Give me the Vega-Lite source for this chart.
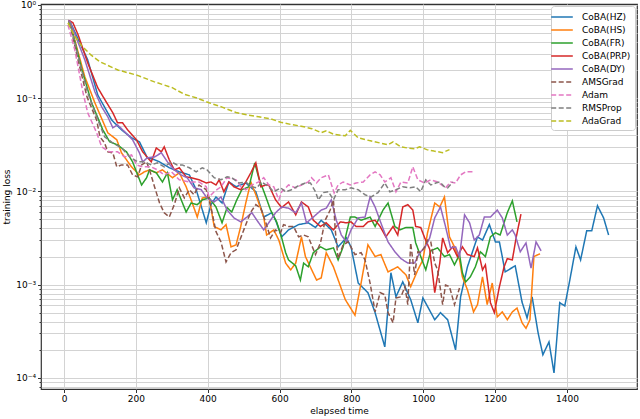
{
"$schema": "https://vega.github.io/schema/vega-lite/v6.json",
"width": 596, "height": 385,
"autosize": {"type": "none"},
"padding": {"left": 41, "top": 4, "right": 3, "bottom": 30},
"background": "white",
"config": {
 "font": "DejaVu Sans",
 "view": {"stroke": "#333", "strokeWidth": 1.2},
 "axis": {"labelFont": "DejaVu Sans", "titleFont": "DejaVu Sans", "labelFontSize": 9, "titleFontSize": 9, "titleFontWeight": "normal", "labelColor": "#000", "titleColor": "#000", "tickColor": "#333", "domain": false, "gridColor": "#d3d3d3", "gridWidth": 1},
 "legend": {"orient": "top-right", "offset": 2, "fillColor": "white", "strokeColor": "#cccccc", "cornerRadius": 3, "padding": 4, "symbolType": "M-1.8,0H1.8", "symbolSize": 144, "symbolStrokeWidth": 1.5, "symbolFillColor": "transparent", "labelFontSize": 9, "labelFont": "DejaVu Sans", "labelColor": "#000", "rowPadding": 1, "labelOffset": 13}
},
"data": {"values": [
{"s":"CoBA(HZ)","t":12,"v":0.66},{"s":"CoBA(HZ)","t":17,"v":0.657},{"s":"CoBA(HZ)","t":66,"v":0.257},{"s":"CoBA(HZ)","t":94,"v":0.108},{"s":"CoBA(HZ)","t":133,"v":0.058},{"s":"CoBA(HZ)","t":160,"v":0.0457},{"s":"CoBA(HZ)","t":188,"v":0.0375},{"s":"CoBA(HZ)","t":210,"v":0.034},{"s":"CoBA(HZ)","t":232,"v":0.0229},{"s":"CoBA(HZ)","t":252,"v":0.0218},{"s":"CoBA(HZ)","t":266,"v":0.0207},{"s":"CoBA(HZ)","t":293,"v":0.0179},{"s":"CoBA(HZ)","t":321,"v":0.0162},{"s":"CoBA(HZ)","t":349,"v":0.015},{"s":"CoBA(HZ)","t":368,"v":0.0104},{"s":"CoBA(HZ)","t":396,"v":0.0046},{"s":"CoBA(HZ)","t":409,"v":0.0072},{"s":"CoBA(HZ)","t":423,"v":0.0087},{"s":"CoBA(HZ)","t":440,"v":0.0075},{"s":"CoBA(HZ)","t":459,"v":0.0126},{"s":"CoBA(HZ)","t":479,"v":0.0112},{"s":"CoBA(HZ)","t":506,"v":0.0123},{"s":"CoBA(HZ)","t":534,"v":0.0099},{"s":"CoBA(HZ)","t":556,"v":0.0053},{"s":"CoBA(HZ)","t":578,"v":0.0059},{"s":"CoBA(HZ)","t":589,"v":0.0049},{"s":"CoBA(HZ)","t":606,"v":0.00325},{"s":"CoBA(HZ)","t":625,"v":0.00386},{"s":"CoBA(HZ)","t":653,"v":0.0044},{"s":"CoBA(HZ)","t":680,"v":0.0046},{"s":"CoBA(HZ)","t":700,"v":0.0041},{"s":"CoBA(HZ)","t":716,"v":0.0049},{"s":"CoBA(HZ)","t":744,"v":0.00386},{"s":"CoBA(HZ)","t":763,"v":0.00254},{"s":"CoBA(HZ)","t":786,"v":0.00317},{"s":"CoBA(HZ)","t":799,"v":0.00254},{"s":"CoBA(HZ)","t":819,"v":0.00104},{"s":"CoBA(HZ)","t":846,"v":0.00082},{"s":"CoBA(HZ)","t":866,"v":0.0005},{"s":"CoBA(HZ)","t":893,"v":0.000215},{"s":"CoBA(HZ)","t":910,"v":0.00134},{"s":"CoBA(HZ)","t":924,"v":0.00074},{"s":"CoBA(HZ)","t":943,"v":0.00107},{"s":"CoBA(HZ)","t":965,"v":0.00069},{"s":"CoBA(HZ)","t":985,"v":0.00039},{"s":"CoBA(HZ)","t":999,"v":0.00072},{"s":"CoBA(HZ)","t":1032,"v":0.00042},{"s":"CoBA(HZ)","t":1048,"v":0.0005},{"s":"CoBA(HZ)","t":1068,"v":0.00042},{"s":"CoBA(HZ)","t":1090,"v":0.0002},{"s":"CoBA(HZ)","t":1104,"v":0.00074},{"s":"CoBA(HZ)","t":1123,"v":0.00155},{"s":"CoBA(HZ)","t":1151,"v":0.00325},{"s":"CoBA(HZ)","t":1165,"v":0.003},{"s":"CoBA(HZ)","t":1184,"v":0.0044},{"s":"CoBA(HZ)","t":1201,"v":0.00287},{"s":"CoBA(HZ)","t":1212,"v":0.00287},{"s":"CoBA(HZ)","t":1228,"v":0.00137},{"s":"CoBA(HZ)","t":1256,"v":0.00159},{"s":"CoBA(HZ)","t":1275,"v":0.00065},{"s":"CoBA(HZ)","t":1289,"v":0.00044},{"s":"CoBA(HZ)","t":1303,"v":0.00074},{"s":"CoBA(HZ)","t":1320,"v":0.0003},{"s":"CoBA(HZ)","t":1333,"v":0.000177},{"s":"CoBA(HZ)","t":1350,"v":0.000243},{"s":"CoBA(HZ)","t":1364,"v":0.000113},{"s":"CoBA(HZ)","t":1380,"v":0.00064},{"s":"CoBA(HZ)","t":1394,"v":0.00059},{"s":"CoBA(HZ)","t":1408,"v":0.00112},{"s":"CoBA(HZ)","t":1425,"v":0.00254},{"s":"CoBA(HZ)","t":1438,"v":0.00184},{"s":"CoBA(HZ)","t":1455,"v":0.00377},{"s":"CoBA(HZ)","t":1469,"v":0.00377},{"s":"CoBA(HZ)","t":1485,"v":0.007},{"s":"CoBA(HZ)","t":1502,"v":0.0052},{"s":"CoBA(HZ)","t":1516,"v":0.0034},
{"s":"CoBA(HS)","t":12,"v":0.66},{"s":"CoBA(HS)","t":17,"v":0.64},{"s":"CoBA(HS)","t":58,"v":0.169},{"s":"CoBA(HS)","t":86,"v":0.089},{"s":"CoBA(HS)","t":122,"v":0.0424},{"s":"CoBA(HS)","t":147,"v":0.0357},{"s":"CoBA(HS)","t":160,"v":0.0259},{"s":"CoBA(HS)","t":188,"v":0.0183},{"s":"CoBA(HS)","t":210,"v":0.015},{"s":"CoBA(HS)","t":224,"v":0.0162},{"s":"CoBA(HS)","t":238,"v":0.017},{"s":"CoBA(HS)","t":257,"v":0.0158},{"s":"CoBA(HS)","t":274,"v":0.017},{"s":"CoBA(HS)","t":302,"v":0.014},{"s":"CoBA(HS)","t":321,"v":0.0158},{"s":"CoBA(HS)","t":340,"v":0.0112},{"s":"CoBA(HS)","t":357,"v":0.0075},{"s":"CoBA(HS)","t":371,"v":0.0053},{"s":"CoBA(HS)","t":385,"v":0.0085},{"s":"CoBA(HS)","t":404,"v":0.0087},{"s":"CoBA(HS)","t":418,"v":0.0042},{"s":"CoBA(HS)","t":437,"v":0.00386},{"s":"CoBA(HS)","t":451,"v":0.0044},{"s":"CoBA(HS)","t":465,"v":0.00254},{"s":"CoBA(HS)","t":479,"v":0.00267},{"s":"CoBA(HS)","t":492,"v":0.0042},{"s":"CoBA(HS)","t":506,"v":0.0075},{"s":"CoBA(HS)","t":520,"v":0.0126},{"s":"CoBA(HS)","t":534,"v":0.0092},{"s":"CoBA(HS)","t":556,"v":0.0053},{"s":"CoBA(HS)","t":564,"v":0.0034},{"s":"CoBA(HS)","t":584,"v":0.00386},{"s":"CoBA(HS)","t":598,"v":0.003},{"s":"CoBA(HS)","t":617,"v":0.0017},{"s":"CoBA(HS)","t":631,"v":0.00144},{"s":"CoBA(HS)","t":645,"v":0.0017},{"s":"CoBA(HS)","t":661,"v":0.00325},{"s":"CoBA(HS)","t":672,"v":0.002},{"s":"CoBA(HS)","t":703,"v":0.00112},{"s":"CoBA(HS)","t":716,"v":0.00118},{"s":"CoBA(HS)","t":730,"v":0.0022},{"s":"CoBA(HS)","t":750,"v":0.00155},{"s":"CoBA(HS)","t":783,"v":0.00069},{"s":"CoBA(HS)","t":810,"v":0.00047},{"s":"CoBA(HS)","t":827,"v":0.00104},{"s":"CoBA(HS)","t":846,"v":0.00267},{"s":"CoBA(HS)","t":866,"v":0.002},{"s":"CoBA(HS)","t":882,"v":0.0021},{"s":"CoBA(HS)","t":902,"v":0.00137},{"s":"CoBA(HS)","t":929,"v":0.00155},{"s":"CoBA(HS)","t":952,"v":0.00127},{"s":"CoBA(HS)","t":965,"v":0.00095},{"s":"CoBA(HS)","t":985,"v":0.00144},{"s":"CoBA(HS)","t":999,"v":0.00184},{"s":"CoBA(HS)","t":1012,"v":0.0036},{"s":"CoBA(HS)","t":1032,"v":0.0075},{"s":"CoBA(HS)","t":1046,"v":0.0068},{"s":"CoBA(HS)","t":1059,"v":0.0087},{"s":"CoBA(HS)","t":1073,"v":0.00325},{"s":"CoBA(HS)","t":1087,"v":0.00254},{"s":"CoBA(HS)","t":1101,"v":0.00184},{"s":"CoBA(HS)","t":1109,"v":0.00121},{"s":"CoBA(HS)","t":1123,"v":0.00088},{"s":"CoBA(HS)","t":1140,"v":0.00051},{"s":"CoBA(HS)","t":1151,"v":0.00061},{"s":"CoBA(HS)","t":1165,"v":0.00121},{"s":"CoBA(HS)","t":1178,"v":0.00061},{"s":"CoBA(HS)","t":1192,"v":0.00104},{"s":"CoBA(HS)","t":1206,"v":0.00045},{"s":"CoBA(HS)","t":1220,"v":0.00051},{"s":"CoBA(HS)","t":1234,"v":0.00042},{"s":"CoBA(HS)","t":1248,"v":0.00051},{"s":"CoBA(HS)","t":1261,"v":0.00056},{"s":"CoBA(HS)","t":1275,"v":0.00039},{"s":"CoBA(HS)","t":1286,"v":0.00034},{"s":"CoBA(HS)","t":1297,"v":0.00042},{"s":"CoBA(HS)","t":1308,"v":0.002},{"s":"CoBA(HS)","t":1325,"v":0.00214},
{"s":"CoBA(FR)","t":12,"v":0.66},{"s":"CoBA(FR)","t":17,"v":0.64},{"s":"CoBA(FR)","t":50,"v":0.2},{"s":"CoBA(FR)","t":77,"v":0.089},{"s":"CoBA(FR)","t":108,"v":0.0457},{"s":"CoBA(FR)","t":127,"v":0.034},{"s":"CoBA(FR)","t":149,"v":0.0315},{"s":"CoBA(FR)","t":174,"v":0.0265},{"s":"CoBA(FR)","t":191,"v":0.0207},{"s":"CoBA(FR)","t":205,"v":0.015},{"s":"CoBA(FR)","t":216,"v":0.0117},{"s":"CoBA(FR)","t":230,"v":0.014},{"s":"CoBA(FR)","t":238,"v":0.017},{"s":"CoBA(FR)","t":257,"v":0.0158},{"s":"CoBA(FR)","t":274,"v":0.0126},{"s":"CoBA(FR)","t":288,"v":0.0158},{"s":"CoBA(FR)","t":302,"v":0.0081},{"s":"CoBA(FR)","t":315,"v":0.0104},{"s":"CoBA(FR)","t":340,"v":0.006},{"s":"CoBA(FR)","t":354,"v":0.0075},{"s":"CoBA(FR)","t":371,"v":0.0072},{"s":"CoBA(FR)","t":385,"v":0.0081},{"s":"CoBA(FR)","t":404,"v":0.0085},{"s":"CoBA(FR)","t":423,"v":0.0068},{"s":"CoBA(FR)","t":440,"v":0.0046},{"s":"CoBA(FR)","t":454,"v":0.0067},{"s":"CoBA(FR)","t":467,"v":0.006},{"s":"CoBA(FR)","t":481,"v":0.0081},{"s":"CoBA(FR)","t":495,"v":0.0104},{"s":"CoBA(FR)","t":515,"v":0.0112},{"s":"CoBA(FR)","t":531,"v":0.0202},{"s":"CoBA(FR)","t":542,"v":0.014},{"s":"CoBA(FR)","t":562,"v":0.0087},{"s":"CoBA(FR)","t":575,"v":0.0063},{"s":"CoBA(FR)","t":592,"v":0.0047},{"s":"CoBA(FR)","t":606,"v":0.00317},{"s":"CoBA(FR)","t":617,"v":0.0022},{"s":"CoBA(FR)","t":625,"v":0.00184},{"s":"CoBA(FR)","t":645,"v":0.00159},{"s":"CoBA(FR)","t":658,"v":0.00112},{"s":"CoBA(FR)","t":667,"v":0.0017},{"s":"CoBA(FR)","t":680,"v":0.00155},{"s":"CoBA(FR)","t":694,"v":0.0022},{"s":"CoBA(FR)","t":714,"v":0.00254},{"s":"CoBA(FR)","t":730,"v":0.00236},{"s":"CoBA(FR)","t":750,"v":0.00248},{"s":"CoBA(FR)","t":763,"v":0.00184},{"s":"CoBA(FR)","t":777,"v":0.00254},{"s":"CoBA(FR)","t":797,"v":0.0053},{"s":"CoBA(FR)","t":810,"v":0.0053},{"s":"CoBA(FR)","t":827,"v":0.0049},{"s":"CoBA(FR)","t":852,"v":0.0053},{"s":"CoBA(FR)","t":866,"v":0.0042},{"s":"CoBA(FR)","t":888,"v":0.0063},{"s":"CoBA(FR)","t":902,"v":0.0075},{"s":"CoBA(FR)","t":921,"v":0.0042},{"s":"CoBA(FR)","t":935,"v":0.00386},{"s":"CoBA(FR)","t":952,"v":0.0041},{"s":"CoBA(FR)","t":971,"v":0.0041},{"s":"CoBA(FR)","t":979,"v":0.0028},{"s":"CoBA(FR)","t":993,"v":0.002},{"s":"CoBA(FR)","t":1007,"v":0.00144},{"s":"CoBA(FR)","t":1021,"v":0.0023},{"s":"CoBA(FR)","t":1040,"v":0.00248},{"s":"CoBA(FR)","t":1059,"v":0.002},{"s":"CoBA(FR)","t":1073,"v":0.0021},{"s":"CoBA(FR)","t":1087,"v":0.00163},{"s":"CoBA(FR)","t":1101,"v":0.0021},{"s":"CoBA(FR)","t":1109,"v":0.00134},{"s":"CoBA(FR)","t":1118,"v":0.00107},{"s":"CoBA(FR)","t":1131,"v":0.00121},{"s":"CoBA(FR)","t":1145,"v":0.00155},{"s":"CoBA(FR)","t":1159,"v":0.00225},{"s":"CoBA(FR)","t":1173,"v":0.002},{"s":"CoBA(FR)","t":1187,"v":0.00325},{"s":"CoBA(FR)","t":1201,"v":0.0036},{"s":"CoBA(FR)","t":1214,"v":0.0034},{"s":"CoBA(FR)","t":1234,"v":0.0059},{"s":"CoBA(FR)","t":1248,"v":0.0079},{"s":"CoBA(FR)","t":1261,"v":0.0047},
{"s":"CoBA(PRP)","t":12,"v":0.68},{"s":"CoBA(PRP)","t":17,"v":0.67},{"s":"CoBA(PRP)","t":25,"v":0.64},{"s":"CoBA(PRP)","t":39,"v":0.48},{"s":"CoBA(PRP)","t":66,"v":0.239},{"s":"CoBA(PRP)","t":94,"v":0.129},{"s":"CoBA(PRP)","t":119,"v":0.089},{"s":"CoBA(PRP)","t":136,"v":0.0695},{"s":"CoBA(PRP)","t":149,"v":0.0543},{"s":"CoBA(PRP)","t":163,"v":0.0543},{"s":"CoBA(PRP)","t":177,"v":0.0457},{"s":"CoBA(PRP)","t":202,"v":0.0357},{"s":"CoBA(PRP)","t":219,"v":0.0265},{"s":"CoBA(PRP)","t":243,"v":0.0207},{"s":"CoBA(PRP)","t":257,"v":0.0292},{"s":"CoBA(PRP)","t":271,"v":0.0265},{"s":"CoBA(PRP)","t":279,"v":0.03},{"s":"CoBA(PRP)","t":293,"v":0.0218},{"s":"CoBA(PRP)","t":307,"v":0.017},{"s":"CoBA(PRP)","t":321,"v":0.0179},{"s":"CoBA(PRP)","t":340,"v":0.0143},{"s":"CoBA(PRP)","t":354,"v":0.014},{"s":"CoBA(PRP)","t":376,"v":0.0133},{"s":"CoBA(PRP)","t":396,"v":0.0123},{"s":"CoBA(PRP)","t":409,"v":0.0126},{"s":"CoBA(PRP)","t":423,"v":0.0117},{"s":"CoBA(PRP)","t":432,"v":0.0133},{"s":"CoBA(PRP)","t":445,"v":0.0099},{"s":"CoBA(PRP)","t":459,"v":0.0126},{"s":"CoBA(PRP)","t":473,"v":0.0112},{"s":"CoBA(PRP)","t":492,"v":0.0104},{"s":"CoBA(PRP)","t":506,"v":0.0126},{"s":"CoBA(PRP)","t":520,"v":0.0158},{"s":"CoBA(PRP)","t":534,"v":0.0202},{"s":"CoBA(PRP)","t":548,"v":0.0112},{"s":"CoBA(PRP)","t":562,"v":0.0117},{"s":"CoBA(PRP)","t":570,"v":0.0117},{"s":"CoBA(PRP)","t":589,"v":0.0081},{"s":"CoBA(PRP)","t":606,"v":0.0067},{"s":"CoBA(PRP)","t":625,"v":0.0077},{"s":"CoBA(PRP)","t":645,"v":0.0056},{"s":"CoBA(PRP)","t":661,"v":0.0077},{"s":"CoBA(PRP)","t":680,"v":0.0068},{"s":"CoBA(PRP)","t":694,"v":0.0049},{"s":"CoBA(PRP)","t":714,"v":0.0042},{"s":"CoBA(PRP)","t":730,"v":0.0046},{"s":"CoBA(PRP)","t":750,"v":0.00386},{"s":"CoBA(PRP)","t":769,"v":0.0047},{"s":"CoBA(PRP)","t":786,"v":0.0046},{"s":"CoBA(PRP)","t":799,"v":0.0047},{"s":"CoBA(PRP)","t":813,"v":0.0042},{"s":"CoBA(PRP)","t":833,"v":0.0042},{"s":"CoBA(PRP)","t":846,"v":0.0047},{"s":"CoBA(PRP)","t":866,"v":0.0049},{"s":"CoBA(PRP)","t":880,"v":0.0042},{"s":"CoBA(PRP)","t":896,"v":0.00325},{"s":"CoBA(PRP)","t":916,"v":0.0042},{"s":"CoBA(PRP)","t":929,"v":0.0034},{"s":"CoBA(PRP)","t":943,"v":0.0068},{"s":"CoBA(PRP)","t":957,"v":0.0072},{"s":"CoBA(PRP)","t":971,"v":0.0063},{"s":"CoBA(PRP)","t":979,"v":0.0042},{"s":"CoBA(PRP)","t":993,"v":0.0041},{"s":"CoBA(PRP)","t":1004,"v":0.00317},{"s":"CoBA(PRP)","t":1018,"v":0.0024},{"s":"CoBA(PRP)","t":1032,"v":0.00082},{"s":"CoBA(PRP)","t":1046,"v":0.0017},{"s":"CoBA(PRP)","t":1054,"v":0.00317},{"s":"CoBA(PRP)","t":1068,"v":0.0022},{"s":"CoBA(PRP)","t":1082,"v":0.00254},{"s":"CoBA(PRP)","t":1095,"v":0.002},{"s":"CoBA(PRP)","t":1109,"v":0.00254},{"s":"CoBA(PRP)","t":1123,"v":0.0021},{"s":"CoBA(PRP)","t":1142,"v":0.002},{"s":"CoBA(PRP)","t":1151,"v":0.00248},{"s":"CoBA(PRP)","t":1165,"v":0.00144},{"s":"CoBA(PRP)","t":1173,"v":0.00163},{"s":"CoBA(PRP)","t":1187,"v":0.00064},{"s":"CoBA(PRP)","t":1198,"v":0.0005},{"s":"CoBA(PRP)","t":1212,"v":0.00095},{"s":"CoBA(PRP)","t":1225,"v":0.00155},{"s":"CoBA(PRP)","t":1234,"v":0.0019},{"s":"CoBA(PRP)","t":1248,"v":0.00184},{"s":"CoBA(PRP)","t":1259,"v":0.00325},{"s":"CoBA(PRP)","t":1272,"v":0.0057},
{"s":"CoBA(DY)","t":12,"v":0.68},{"s":"CoBA(DY)","t":17,"v":0.657},{"s":"CoBA(DY)","t":58,"v":0.257},{"s":"CoBA(DY)","t":86,"v":0.117},{"s":"CoBA(DY)","t":105,"v":0.0805},{"s":"CoBA(DY)","t":122,"v":0.063},{"s":"CoBA(DY)","t":136,"v":0.048},{"s":"CoBA(DY)","t":149,"v":0.0516},{"s":"CoBA(DY)","t":169,"v":0.0435},{"s":"CoBA(DY)","t":191,"v":0.0357},{"s":"CoBA(DY)","t":210,"v":0.0259},{"s":"CoBA(DY)","t":219,"v":0.0207},{"s":"CoBA(DY)","t":232,"v":0.0229},{"s":"CoBA(DY)","t":252,"v":0.0234},{"s":"CoBA(DY)","t":271,"v":0.0259},{"s":"CoBA(DY)","t":288,"v":0.0207},{"s":"CoBA(DY)","t":307,"v":0.017},{"s":"CoBA(DY)","t":326,"v":0.015},{"s":"CoBA(DY)","t":343,"v":0.014},{"s":"CoBA(DY)","t":362,"v":0.0109},{"s":"CoBA(DY)","t":382,"v":0.0104},{"s":"CoBA(DY)","t":398,"v":0.0085},{"s":"CoBA(DY)","t":418,"v":0.0077},{"s":"CoBA(DY)","t":437,"v":0.0087},{"s":"CoBA(DY)","t":454,"v":0.0063},{"s":"CoBA(DY)","t":473,"v":0.0052},{"s":"CoBA(DY)","t":492,"v":0.0047},{"s":"CoBA(DY)","t":509,"v":0.0053},{"s":"CoBA(DY)","t":523,"v":0.0059},{"s":"CoBA(DY)","t":537,"v":0.0049},{"s":"CoBA(DY)","t":556,"v":0.00386},{"s":"CoBA(DY)","t":570,"v":0.0046},{"s":"CoBA(DY)","t":589,"v":0.0059},{"s":"CoBA(DY)","t":606,"v":0.0068},{"s":"CoBA(DY)","t":625,"v":0.0066},{"s":"CoBA(DY)","t":645,"v":0.0059},{"s":"CoBA(DY)","t":661,"v":0.0075},{"s":"CoBA(DY)","t":675,"v":0.0046},{"s":"CoBA(DY)","t":694,"v":0.0053},{"s":"CoBA(DY)","t":716,"v":0.0063},{"s":"CoBA(DY)","t":730,"v":0.0066},{"s":"CoBA(DY)","t":744,"v":0.0081},{"s":"CoBA(DY)","t":758,"v":0.0049},{"s":"CoBA(DY)","t":772,"v":0.0034},{"s":"CoBA(DY)","t":786,"v":0.00287},{"s":"CoBA(DY)","t":799,"v":0.00386},{"s":"CoBA(DY)","t":819,"v":0.0052},{"s":"CoBA(DY)","t":838,"v":0.0053},{"s":"CoBA(DY)","t":852,"v":0.0087},{"s":"CoBA(DY)","t":866,"v":0.0068},{"s":"CoBA(DY)","t":882,"v":0.0046},{"s":"CoBA(DY)","t":902,"v":0.00287},{"s":"CoBA(DY)","t":921,"v":0.00225},{"s":"CoBA(DY)","t":938,"v":0.0019},{"s":"CoBA(DY)","t":957,"v":0.0017},{"s":"CoBA(DY)","t":976,"v":0.0017},{"s":"CoBA(DY)","t":990,"v":0.0022},{"s":"CoBA(DY)","t":1004,"v":0.00248},{"s":"CoBA(DY)","t":1018,"v":0.00317},{"s":"CoBA(DY)","t":1032,"v":0.0052},{"s":"CoBA(DY)","t":1048,"v":0.0068},{"s":"CoBA(DY)","t":1062,"v":0.0042},{"s":"CoBA(DY)","t":1076,"v":0.00248},{"s":"CoBA(DY)","t":1090,"v":0.00254},{"s":"CoBA(DY)","t":1101,"v":0.002},{"s":"CoBA(DY)","t":1115,"v":0.0056},{"s":"CoBA(DY)","t":1129,"v":0.0046},{"s":"CoBA(DY)","t":1142,"v":0.003},{"s":"CoBA(DY)","t":1156,"v":0.0034},{"s":"CoBA(DY)","t":1170,"v":0.0053},{"s":"CoBA(DY)","t":1187,"v":0.0053},{"s":"CoBA(DY)","t":1206,"v":0.0063},{"s":"CoBA(DY)","t":1220,"v":0.0052},{"s":"CoBA(DY)","t":1234,"v":0.0034},{"s":"CoBA(DY)","t":1248,"v":0.00386},{"s":"CoBA(DY)","t":1256,"v":0.0034},{"s":"CoBA(DY)","t":1270,"v":0.00225},{"s":"CoBA(DY)","t":1286,"v":0.0028},{"s":"CoBA(DY)","t":1300,"v":0.0015},{"s":"CoBA(DY)","t":1314,"v":0.00287},{"s":"CoBA(DY)","t":1328,"v":0.0023},
{"s":"AMSGrad","t":12,"v":0.63},{"s":"AMSGrad","t":17,"v":0.61},{"s":"AMSGrad","t":39,"v":0.257},{"s":"AMSGrad","t":64,"v":0.103},{"s":"AMSGrad","t":91,"v":0.058},{"s":"AMSGrad","t":100,"v":0.0384},{"s":"AMSGrad","t":113,"v":0.033},{"s":"AMSGrad","t":122,"v":0.0265},{"s":"AMSGrad","t":136,"v":0.0259},{"s":"AMSGrad","t":147,"v":0.0183},{"s":"AMSGrad","t":160,"v":0.0192},{"s":"AMSGrad","t":177,"v":0.0192},{"s":"AMSGrad","t":191,"v":0.015},{"s":"AMSGrad","t":205,"v":0.0143},{"s":"AMSGrad","t":216,"v":0.0192},{"s":"AMSGrad","t":230,"v":0.0207},{"s":"AMSGrad","t":238,"v":0.017},{"s":"AMSGrad","t":252,"v":0.0112},{"s":"AMSGrad","t":266,"v":0.0075},{"s":"AMSGrad","t":279,"v":0.0059},{"s":"AMSGrad","t":293,"v":0.0053},{"s":"AMSGrad","t":307,"v":0.0072},{"s":"AMSGrad","t":321,"v":0.0109},{"s":"AMSGrad","t":335,"v":0.0085},{"s":"AMSGrad","t":349,"v":0.0104},{"s":"AMSGrad","t":362,"v":0.0092},{"s":"AMSGrad","t":376,"v":0.0117},{"s":"AMSGrad","t":396,"v":0.0104},{"s":"AMSGrad","t":409,"v":0.0068},{"s":"AMSGrad","t":423,"v":0.0037},{"s":"AMSGrad","t":437,"v":0.00287},{"s":"AMSGrad","t":451,"v":0.00175},{"s":"AMSGrad","t":465,"v":0.0022},{"s":"AMSGrad","t":479,"v":0.00236},{"s":"AMSGrad","t":495,"v":0.0034},{"s":"AMSGrad","t":509,"v":0.0047},{"s":"AMSGrad","t":520,"v":0.006},{"s":"AMSGrad","t":534,"v":0.0072},{"s":"AMSGrad","t":548,"v":0.0066},{"s":"AMSGrad","t":562,"v":0.0046},{"s":"AMSGrad","t":575,"v":0.00317},{"s":"AMSGrad","t":589,"v":0.00386},{"s":"AMSGrad","t":603,"v":0.0036},{"s":"AMSGrad","t":611,"v":0.0044},{"s":"AMSGrad","t":625,"v":0.0042},{"s":"AMSGrad","t":639,"v":0.0042},{"s":"AMSGrad","t":653,"v":0.00325},{"s":"AMSGrad","t":667,"v":0.0034},{"s":"AMSGrad","t":680,"v":0.00325},{"s":"AMSGrad","t":700,"v":0.0021},{"s":"AMSGrad","t":714,"v":0.0028},{"s":"AMSGrad","t":727,"v":0.0049},{"s":"AMSGrad","t":741,"v":0.0063},{"s":"AMSGrad","t":750,"v":0.0081},{"s":"AMSGrad","t":755,"v":0.00386},{"s":"AMSGrad","t":763,"v":0.0019},{"s":"AMSGrad","t":777,"v":0.00267},{"s":"AMSGrad","t":791,"v":0.00287},{"s":"AMSGrad","t":810,"v":0.0021},{"s":"AMSGrad","t":827,"v":0.0022},{"s":"AMSGrad","t":838,"v":0.00184},{"s":"AMSGrad","t":852,"v":0.00104},{"s":"AMSGrad","t":866,"v":0.00051},{"s":"AMSGrad","t":880,"v":0.00082},{"s":"AMSGrad","t":893,"v":0.00078},{"s":"AMSGrad","t":902,"v":0.0005},{"s":"AMSGrad","t":916,"v":0.00039},{"s":"AMSGrad","t":924,"v":0.00072},{"s":"AMSGrad","t":938,"v":0.00074},{"s":"AMSGrad","t":949,"v":0.00095},{"s":"AMSGrad","t":957,"v":0.00061},{"s":"AMSGrad","t":965,"v":0.0028},{"s":"AMSGrad","t":976,"v":0.00127},{"s":"AMSGrad","t":985,"v":0.00225},{"s":"AMSGrad","t":993,"v":0.0022},{"s":"AMSGrad","t":1004,"v":0.00254},{"s":"AMSGrad","t":1012,"v":0.003},{"s":"AMSGrad","t":1021,"v":0.00287},{"s":"AMSGrad","t":1032,"v":0.0017},{"s":"AMSGrad","t":1040,"v":0.00144},{"s":"AMSGrad","t":1054,"v":0.00061},{"s":"AMSGrad","t":1062,"v":0.00099},{"s":"AMSGrad","t":1073,"v":0.00095},{"s":"AMSGrad","t":1087,"v":0.00061},{"s":"AMSGrad","t":1101,"v":0.00092},
{"s":"Adam","t":11,"v":0.61},{"s":"Adam","t":30,"v":0.33},{"s":"Adam","t":53,"v":0.114},{"s":"Adam","t":66,"v":0.0695},{"s":"Adam","t":91,"v":0.0424},{"s":"Adam","t":105,"v":0.03},{"s":"Adam","t":127,"v":0.0265},{"s":"Adam","t":149,"v":0.0265},{"s":"Adam","t":169,"v":0.0234},{"s":"Adam","t":188,"v":0.0246},{"s":"Adam","t":202,"v":0.0192},{"s":"Adam","t":219,"v":0.0183},{"s":"Adam","t":243,"v":0.0183},{"s":"Adam","t":260,"v":0.017},{"s":"Adam","t":279,"v":0.015},{"s":"Adam","t":299,"v":0.0162},{"s":"Adam","t":321,"v":0.0133},{"s":"Adam","t":349,"v":0.0126},{"s":"Adam","t":376,"v":0.0126},{"s":"Adam","t":396,"v":0.0112},{"s":"Adam","t":404,"v":0.0087},{"s":"Adam","t":418,"v":0.0099},{"s":"Adam","t":437,"v":0.0112},{"s":"Adam","t":454,"v":0.014},{"s":"Adam","t":479,"v":0.0133},{"s":"Adam","t":492,"v":0.0112},{"s":"Adam","t":506,"v":0.0104},{"s":"Adam","t":523,"v":0.0117},{"s":"Adam","t":542,"v":0.0126},{"s":"Adam","t":556,"v":0.014},{"s":"Adam","t":570,"v":0.0117},{"s":"Adam","t":584,"v":0.0112},{"s":"Adam","t":598,"v":0.0081},{"s":"Adam","t":606,"v":0.0099},{"s":"Adam","t":625,"v":0.0117},{"s":"Adam","t":645,"v":0.0109},{"s":"Adam","t":661,"v":0.0117},{"s":"Adam","t":680,"v":0.0126},{"s":"Adam","t":689,"v":0.014},{"s":"Adam","t":703,"v":0.0123},{"s":"Adam","t":716,"v":0.014},{"s":"Adam","t":736,"v":0.015},{"s":"Adam","t":752,"v":0.0096},{"s":"Adam","t":763,"v":0.0117},{"s":"Adam","t":777,"v":0.0126},{"s":"Adam","t":797,"v":0.0117},{"s":"Adam","t":813,"v":0.0123},{"s":"Adam","t":833,"v":0.0126},{"s":"Adam","t":852,"v":0.015},{"s":"Adam","t":866,"v":0.0162},{"s":"Adam","t":880,"v":0.015},{"s":"Adam","t":893,"v":0.0126},{"s":"Adam","t":910,"v":0.014},{"s":"Adam","t":924,"v":0.0099},{"s":"Adam","t":938,"v":0.0126},{"s":"Adam","t":957,"v":0.0123},{"s":"Adam","t":971,"v":0.0183},{"s":"Adam","t":985,"v":0.0133},{"s":"Adam","t":1004,"v":0.0123},{"s":"Adam","t":1021,"v":0.0133},{"s":"Adam","t":1040,"v":0.0126},{"s":"Adam","t":1062,"v":0.0109},{"s":"Adam","t":1076,"v":0.0126},{"s":"Adam","t":1090,"v":0.0123},{"s":"Adam","t":1104,"v":0.015},{"s":"Adam","t":1118,"v":0.0162},{"s":"Adam","t":1137,"v":0.0162},
{"s":"RMSProp","t":12,"v":0.66},{"s":"RMSProp","t":17,"v":0.64},{"s":"RMSProp","t":44,"v":0.239},{"s":"RMSProp","t":66,"v":0.114},{"s":"RMSProp","t":91,"v":0.063},{"s":"RMSProp","t":113,"v":0.0384},{"s":"RMSProp","t":136,"v":0.033},{"s":"RMSProp","t":160,"v":0.0293},{"s":"RMSProp","t":183,"v":0.0234},{"s":"RMSProp","t":205,"v":0.0207},{"s":"RMSProp","t":224,"v":0.0207},{"s":"RMSProp","t":243,"v":0.0192},{"s":"RMSProp","t":260,"v":0.0202},{"s":"RMSProp","t":279,"v":0.0183},{"s":"RMSProp","t":299,"v":0.0207},{"s":"RMSProp","t":315,"v":0.0192},{"s":"RMSProp","t":329,"v":0.0192},{"s":"RMSProp","t":349,"v":0.0179},{"s":"RMSProp","t":368,"v":0.0162},{"s":"RMSProp","t":385,"v":0.0179},{"s":"RMSProp","t":398,"v":0.017},{"s":"RMSProp","t":418,"v":0.014},{"s":"RMSProp","t":437,"v":0.0133},{"s":"RMSProp","t":454,"v":0.0143},{"s":"RMSProp","t":467,"v":0.014},{"s":"RMSProp","t":487,"v":0.0123},{"s":"RMSProp","t":506,"v":0.0126},{"s":"RMSProp","t":523,"v":0.0112},{"s":"RMSProp","t":537,"v":0.0109},{"s":"RMSProp","t":550,"v":0.0126},{"s":"RMSProp","t":570,"v":0.0112},{"s":"RMSProp","t":584,"v":0.0099},{"s":"RMSProp","t":603,"v":0.0109},{"s":"RMSProp","t":617,"v":0.0099},{"s":"RMSProp","t":633,"v":0.0104},{"s":"RMSProp","t":653,"v":0.0115},{"s":"RMSProp","t":672,"v":0.0123},{"s":"RMSProp","t":686,"v":0.0123},{"s":"RMSProp","t":700,"v":0.0099},{"s":"RMSProp","t":708,"v":0.0081},{"s":"RMSProp","t":722,"v":0.0097},{"s":"RMSProp","t":736,"v":0.0099},{"s":"RMSProp","t":750,"v":0.0081},{"s":"RMSProp","t":763,"v":0.0104},{"s":"RMSProp","t":783,"v":0.0104},{"s":"RMSProp","t":799,"v":0.0109},{"s":"RMSProp","t":819,"v":0.0104},{"s":"RMSProp","t":838,"v":0.0092},{"s":"RMSProp","t":855,"v":0.0087},{"s":"RMSProp","t":874,"v":0.0097},{"s":"RMSProp","t":893,"v":0.0123},{"s":"RMSProp","t":907,"v":0.0099},{"s":"RMSProp","t":924,"v":0.0104},{"s":"RMSProp","t":943,"v":0.0112},{"s":"RMSProp","t":963,"v":0.0109},{"s":"RMSProp","t":979,"v":0.0112},{"s":"RMSProp","t":993,"v":0.0099},{"s":"RMSProp","t":1007,"v":0.0133},{"s":"RMSProp","t":1021,"v":0.0117},{"s":"RMSProp","t":1035,"v":0.0123},{"s":"RMSProp","t":1046,"v":0.0126},{"s":"RMSProp","t":1059,"v":0.0112},{"s":"RMSProp","t":1068,"v":0.0109},{"s":"RMSProp","t":1082,"v":0.0126},
{"s":"AdaGrad","t":11,"v":0.64},{"s":"AdaGrad","t":30,"v":0.46},{"s":"AdaGrad","t":50,"v":0.36},{"s":"AdaGrad","t":75,"v":0.29},{"s":"AdaGrad","t":100,"v":0.245},{"s":"AdaGrad","t":150,"v":0.2},{"s":"AdaGrad","t":205,"v":0.175},{"s":"AdaGrad","t":250,"v":0.15},{"s":"AdaGrad","t":300,"v":0.13},{"s":"AdaGrad","t":335,"v":0.11},{"s":"AdaGrad","t":370,"v":0.1},{"s":"AdaGrad","t":404,"v":0.089},{"s":"AdaGrad","t":440,"v":0.08},{"s":"AdaGrad","t":479,"v":0.07},{"s":"AdaGrad","t":510,"v":0.066},{"s":"AdaGrad","t":542,"v":0.063},{"s":"AdaGrad","t":575,"v":0.06},{"s":"AdaGrad","t":603,"v":0.055},{"s":"AdaGrad","t":633,"v":0.052},{"s":"AdaGrad","t":660,"v":0.05},{"s":"AdaGrad","t":690,"v":0.047},{"s":"AdaGrad","t":716,"v":0.0425},{"s":"AdaGrad","t":730,"v":0.0446},{"s":"AdaGrad","t":750,"v":0.041},{"s":"AdaGrad","t":783,"v":0.0394},{"s":"AdaGrad","t":797,"v":0.045},{"s":"AdaGrad","t":819,"v":0.0375},{"s":"AdaGrad","t":850,"v":0.035},{"s":"AdaGrad","t":880,"v":0.033},{"s":"AdaGrad","t":902,"v":0.0315},{"s":"AdaGrad","t":916,"v":0.034},{"s":"AdaGrad","t":938,"v":0.03},{"s":"AdaGrad","t":960,"v":0.029},{"s":"AdaGrad","t":977,"v":0.0286},{"s":"AdaGrad","t":990,"v":0.03},{"s":"AdaGrad","t":1010,"v":0.028},{"s":"AdaGrad","t":1030,"v":0.027},{"s":"AdaGrad","t":1054,"v":0.026},{"s":"AdaGrad","t":1073,"v":0.028}
]},
"mark": {"type": "line", "strokeWidth": 1.5, "clip": true},
"encoding": {
 "x": {"field": "t", "type": "quantitative", "scale": {"domain": [-64, 1595], "nice": false, "zero": false},
  "axis": {"values": [0,200,400,600,800,1000,1200,1400], "format": "d", "title": "elapsed time", "tickSize": 3.5, "labelPadding": 2, "titlePadding": 3, "grid": true}},
 "y": {"field": "v", "type": "quantitative", "scale": {"type": "log", "domain": [0.000076, 1.02], "nice": false},
  "axis": {"values": [0.00008,0.00009,0.0001,0.0002,0.0003,0.0004,0.0005,0.0006,0.0007,0.0008,0.0009,0.001,0.002,0.003,0.004,0.005,0.006,0.007,0.008,0.009,0.01,0.02,0.03,0.04,0.05,0.06,0.07,0.08,0.09,0.1,0.2,0.3,0.4,0.5,0.6,0.7,0.8,0.9,1],
   "labelExpr": "datum.value==1?'10⁰':datum.value==0.1?'10⁻¹':datum.value==0.01?'10⁻²':datum.value==0.001?'10⁻³':datum.value==0.0001?'10⁻⁴':''",
   "labelOverlap": false, "labelFlush": false, "labelBound": false,
   "tickSize": {"condition": {"test": "datum.value==1||datum.value==0.1||datum.value==0.01||datum.value==0.001||datum.value==0.0001", "value": 3.5}, "value": 2},
   "title": "training loss", "titlePadding": 4, "grid": true, "labelPadding": 2}},
 "color": {"field": "s", "type": "nominal",
  "scale": {"domain": ["CoBA(HZ)","CoBA(HS)","CoBA(FR)","CoBA(PRP)","CoBA(DY)","AMSGrad","Adam","RMSProp","AdaGrad"],
   "range": ["#1f77b4","#ff7f0e","#2ca02c","#d62728","#9467bd","#8c564b","#e377c2","#7f7f7f","#bcbd22"]},
  "legend": {"title": null}},
 "strokeDash": {"field": "s", "type": "nominal",
  "scale": {"domain": ["CoBA(HZ)","CoBA(HS)","CoBA(FR)","CoBA(PRP)","CoBA(DY)","AMSGrad","Adam","RMSProp","AdaGrad"],
   "range": [[1,0],[1,0],[1,0],[1,0],[1,0],[5,2.5],[5,2.5],[5,2.5],[5,2.5]]},
  "legend": {"title": null}}
}
}
